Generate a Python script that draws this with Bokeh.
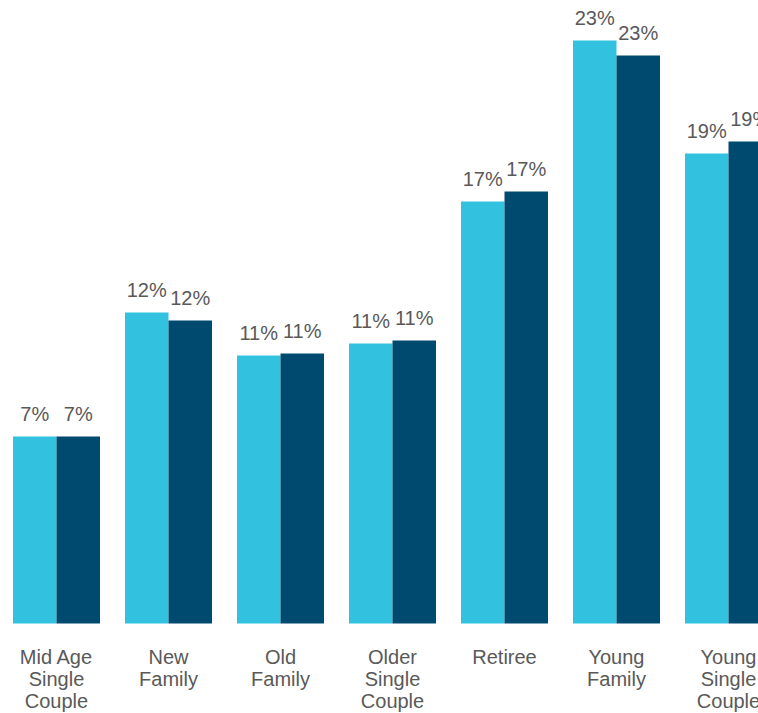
from bokeh.plotting import figure
from bokeh.models import Range1d, ColumnDataSource
from bokeh.core.properties import value
from bokeh.embed import file_html
from bokeh.resources import INLINE

categories = ["Mid Age\nSingle\nCouple", "New\nFamily", "Old\nFamily", "Older\nSingle\nCouple",
              "Retiree", "Young\nFamily", "Young\nSingle\nCouple"]
series_a = [7.48, 12.44, 10.72, 11.2, 16.88, 23.32, 18.8]
series_b = [7.48, 12.12, 10.8, 11.32, 17.28, 22.72, 19.28]

color_a = "#33C1E0"
color_b = "#004A70"
text_color = "#595959"
font = "Liberation Sans"

W, H = 758, 713
px_per_cat = 112.0
first_center_px = 56.0
px_per_pct = 25.0
base_px = 623.0
bar_w = 43.5 / px_per_cat

xs = list(range(len(categories)))
x_start = -first_center_px / px_per_cat
x_end = x_start + W / px_per_cat
y_end = base_px / px_per_pct
y_start = y_end - H / px_per_pct

p = figure(width=W, height=H, output_backend="svg", toolbar_location=None,
           x_range=Range1d(x_start, x_end), y_range=Range1d(y_start, y_end),
           min_border=0, min_border_left=0, min_border_right=0,
           min_border_top=0, min_border_bottom=0)
p.axis.visible = False
p.grid.visible = False
p.outline_line_color = None
p.background_fill_color = "white"
p.border_fill_color = "white"

src = ColumnDataSource(dict(
    xa=[x - bar_w / 2 for x in xs], xb=[x + bar_w / 2 for x in xs],
    a=series_a, b=series_b,
    la=[f"{round(v)}%" for v in series_a], lb=[f"{round(v)}%" for v in series_b],
    x=xs, cat=categories, zero=[0] * len(xs),
))

p.vbar(x="xa", top="a", width=bar_w, bottom=0, source=src, fill_color=color_a, line_color=None)
p.vbar(x="xb", top="b", width=bar_w, bottom=0, source=src, fill_color=color_b, line_color=None)

for xcol, ycol, lcol in (("xa", "a", "la"), ("xb", "b", "lb")):
    p.text(x=xcol, y=ycol, text=lcol, source=src, text_align="center",
           text_baseline="alphabetic", y_offset=-23, text_font=value(font),
           text_font_size="20px", text_color=text_color)

p.text(x="x", y="zero", text="cat", source=src, text_align="center",
       text_baseline="top", y_offset=22, text_font=value(font),
       text_font_size="20px", text_color=text_color, text_line_height=1.0)

open("out.html", "w").write(file_html(p, INLINE))
